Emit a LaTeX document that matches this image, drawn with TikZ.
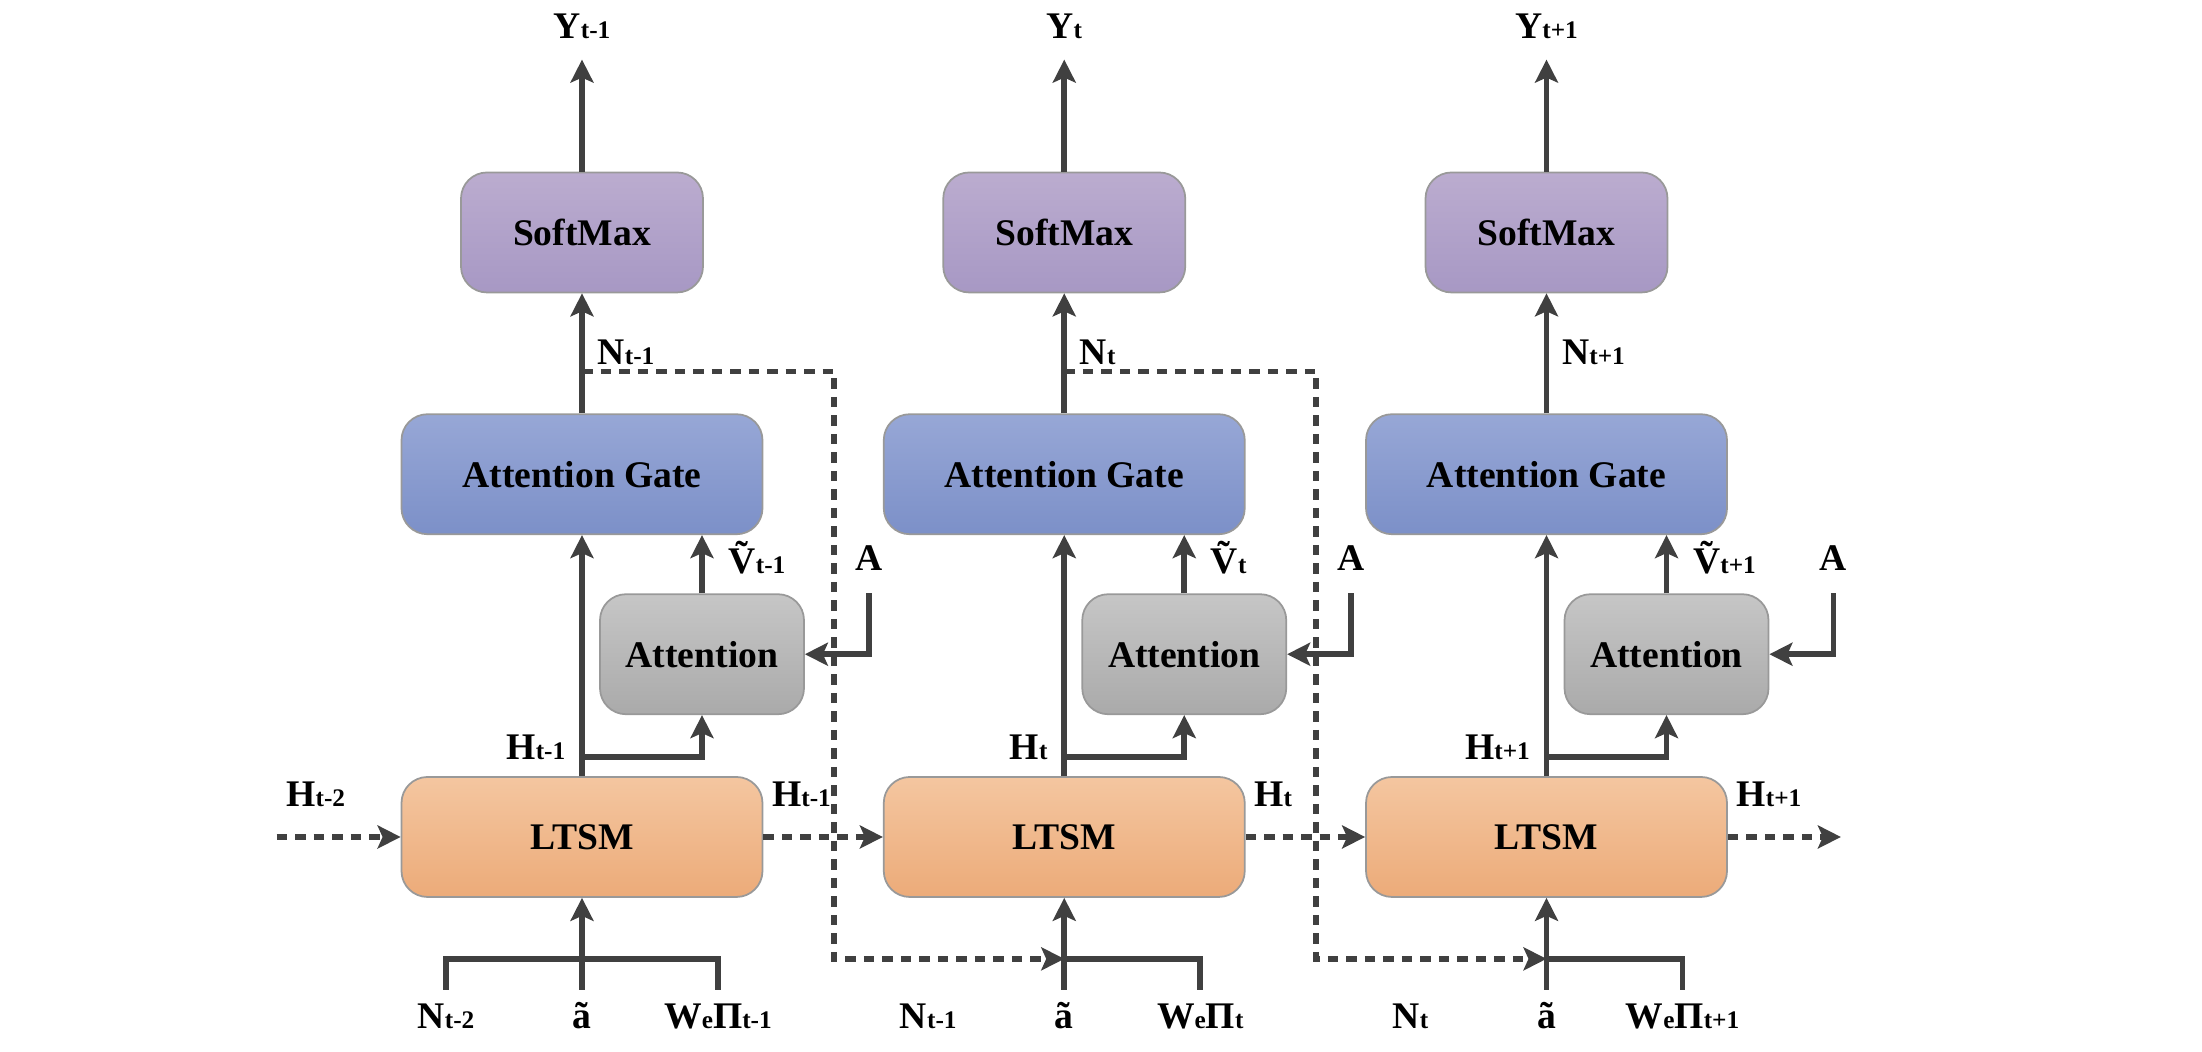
\documentclass[tikz,border=0pt]{standalone}
\usepackage{fontspec}
\setmainfont{Liberation Serif}
\usepackage{tikz}
\usetikzlibrary{positioning,arrows.meta,calc}
\definecolor{smaxtop}{RGB}{187,172,207}
\definecolor{smaxbot}{RGB}{167,152,196}
\definecolor{gatetop}{RGB}{151,167,214}
\definecolor{gatebot}{RGB}{124,144,200}
\definecolor{attntop}{RGB}{198,198,198}
\definecolor{attnbot}{RGB}{170,170,170}
\definecolor{lstmtop}{RGB}{244,198,160}
\definecolor{lstmbot}{RGB}{236,171,121}
\definecolor{wiregray}{RGB}{64,64,64}
\newcommand{\lowidx}[1]{{\fontsize{7.2}{8}\selectfont #1}}

\begin{document}
\begin{tikzpicture}[
  x=1mm, y=1mm,
  font=\fontsize{10.7}{12}\selectfont\bfseries,
  node distance=24.1mm and 11.95mm,
  box/.style={draw=black!40, rounded corners=2.6mm, align=center, inner sep=0pt, line width=0.5pt, minimum height=12mm},
  lstm/.style={box, minimum width=36.1mm, top color=lstmtop, bottom color=lstmbot},
  gate/.style={box, minimum width=36.1mm, top color=gatetop, bottom color=gatebot},
  smax/.style={box, minimum width=24.2mm, top color=smaxtop, bottom color=smaxbot},
  attn/.style={box, minimum width=20.4mm, top color=attntop, bottom color=attnbot},
  wire/.style={wiregray, line width=1.6pt},
  arr/.style={wire, -{Stealth[length=2.3mm, width=2.3mm, inset=0.5mm]}},
  darr/.style={arr, line width=1.6pt, dash pattern=on 1.05mm off 0.8mm},
  lab/.style={inner sep=0pt, anchor=base},
]
\useasboundingbox (0,0) rectangle (220.2,105.2);
% ---- LTSM row ----
\node[lstm] (lstm1) at (58.2,21.5) {LTSM};
\node[lstm, right=of lstm1] (lstm2) {LTSM};
\node[lstm, right=of lstm2] (lstm3) {LTSM};
% ---- gates and softmax ----
\node[gate, above=of lstm1] (gate1) {Attention Gate};
\node[gate, above=of lstm2] (gate2) {Attention Gate};
\node[gate, above=of lstm3] (gate3) {Attention Gate};
\node[smax, above=12mm of gate1] (smax1) {SoftMax};
\node[smax, above=12mm of gate2] (smax2) {SoftMax};
\node[smax, above=12mm of gate3] (smax3) {SoftMax};
% ---- attention blocks ----
\node[attn, anchor=south] (attn1) at ($(lstm1.north)+(12mm,6.1mm)$) {Attention};
\node[attn, anchor=south] (attn2) at ($(lstm2.north)+(12mm,6.1mm)$) {Attention};
\node[attn, anchor=south] (attn3) at ($(lstm3.north)+(12mm,6.1mm)$) {Attention};
% ---- helper points ----
\coordinate (ytip1) at ($(smax1.north)+(0,11.2mm)$);
\coordinate (ytip2) at ($(smax2.north)+(0,11.2mm)$);
\coordinate (ytip3) at ($(smax3.north)+(0,11.2mm)$);
\coordinate (ntap1) at ($(gate1.north)+(0,4.2mm)$);
\coordinate (ntap2) at ($(gate2.north)+(0,4.2mm)$);
\coordinate (atop1) at ($(attn1.north east)+(6.4mm,0)$);
\coordinate (atop2) at ($(attn2.north east)+(6.4mm,0)$);
\coordinate (atop3) at ($(attn3.north east)+(6.4mm,0)$);
\coordinate (hb1) at ($(lstm1.north)+(0,1.9mm)$);
\coordinate (hb2) at ($(lstm2.north)+(0,1.9mm)$);
\coordinate (hb3) at ($(lstm3.north)+(0,1.9mm)$);
\coordinate (j1) at ($(lstm1.south)+(0,-6.1mm)$);
\coordinate (j2) at ($(lstm2.south)+(0,-6.1mm)$);
\coordinate (j3) at ($(lstm3.south)+(0,-6.1mm)$);
\coordinate (jb1) at ($(j1)+(0,-3.1mm)$);
\coordinate (jb2) at ($(j2)+(0,-3.1mm)$);
\coordinate (jb3) at ($(j3)+(0,-3.1mm)$);
\coordinate (hin) at ($(lstm1.west)+(-12.4mm,0)$);
\coordinate (hout) at ($(lstm3.east)+(11.3mm,0)$);
% ---- vertical flow ----
\draw[arr] (smax1.north) -- (ytip1);
\draw[arr] (smax2.north) -- (ytip2);
\draw[arr] (smax3.north) -- (ytip3);
\draw[arr] (gate1.north) -- (smax1.south);
\draw[arr] (gate2.north) -- (smax2.south);
\draw[arr] (gate3.north) -- (smax3.south);
\draw[arr] (lstm1.north) -- (gate1.south);
\draw[arr] (lstm2.north) -- (gate2.south);
\draw[arr] (lstm3.north) -- (gate3.south);
\draw[arr] (attn1.north) -- (attn1.north |- gate1.south);
\draw[arr] (attn2.north) -- (attn2.north |- gate2.south);
\draw[arr] (attn3.north) -- (attn3.north |- gate3.south);
\draw[arr] (hb1) -| (attn1.south);
\draw[arr] (hb2) -| (attn2.south);
\draw[arr] (hb3) -| (attn3.south);
\draw[arr] (atop1) |- (attn1.east);
\draw[arr] (atop2) |- (attn2.east);
\draw[arr] (atop3) |- (attn3.east);
% ---- inputs below ----
\draw[wire] ([xshift=-13.6mm]jb1) |- ([xshift=13.6mm]j1) -- ([xshift=13.6mm]jb1);
\draw[wire] (j2) -| ([xshift=13.6mm]jb2);
\draw[wire] (j3) -| ([xshift=13.6mm]jb3);
\draw[arr] (jb1) -- (lstm1.south);
\draw[arr] (jb2) -- (lstm2.south);
\draw[arr] (jb3) -- (lstm3.south);
% ---- recurrent state (dashed) ----
\draw[darr] (hin) -- (lstm1.west);
\draw[darr] (lstm1.east) -- (lstm2.west);
\draw[darr] (lstm2.east) -- (lstm3.west);
\draw[darr] (lstm3.east) -- (hout);
\draw[darr] (ntap1) -- ++(25.2mm,0) |- (j2);
\draw[darr] (ntap2) -- ++(25.2mm,0) |- (j3);
% ---- labels ----
\node[lab] at ($(smax1.north)+(0,13.3mm)$) {Y\lowidx{t-1}};
\node[lab] at ($(smax2.north)+(0,13.3mm)$) {Y\lowidx{t}};
\node[lab] at ($(smax3.north)+(0,13.3mm)$) {Y\lowidx{t+1}};
\node[lab, anchor=base west] at ($(gate1.north)+(1.5mm,4.9mm)$) {N\lowidx{t-1}};
\node[lab, anchor=base west] at ($(gate2.north)+(1.5mm,4.9mm)$) {N\lowidx{t}};
\node[lab, anchor=base west] at ($(gate3.north)+(1.5mm,4.9mm)$) {N\lowidx{t+1}};
\node[lab, anchor=base west] at ($(attn1.north)+(2.6mm,2.0mm)$) {\~{V}\lowidx{t-1}};
\node[lab, anchor=base west] at ($(attn2.north)+(2.6mm,2.0mm)$) {\~{V}\lowidx{t}};
\node[lab, anchor=base west] at ($(attn3.north)+(2.6mm,2.0mm)$) {\~{V}\lowidx{t+1}};
\node[lab] at ($(atop1)+(0,2.3mm)$) {A};
\node[lab] at ($(atop2)+(0,2.3mm)$) {A};
\node[lab] at ($(atop3)+(0,2.3mm)$) {A};
\node[lab, anchor=base east] at ($(hb1)+(-1.6mm,-0.2mm)$) {H\lowidx{t-1}};
\node[lab, anchor=base east] at ($(hb2)+(-1.6mm,-0.2mm)$) {H\lowidx{t}};
\node[lab, anchor=base east] at ($(hb3)+(-1.6mm,-0.2mm)$) {H\lowidx{t+1}};
\node[lab, anchor=base west] at ($(lstm1.west)+(-11.5mm,3.0mm)$) {H\lowidx{t-2}};
\node[lab, anchor=base west] at ($(lstm1.east)+(0.8mm,3.0mm)$) {H\lowidx{t-1}};
\node[lab, anchor=base west] at ($(lstm2.east)+(0.8mm,3.0mm)$) {H\lowidx{t}};
\node[lab, anchor=base west] at ($(lstm3.east)+(0.8mm,3.0mm)$) {H\lowidx{t+1}};
\node[lab] at ($(jb1)+(-13.6mm,-3.9mm)$) {N\lowidx{t-2}};
\node[lab] at ($(jb1)+(0,-3.9mm)$) {ã};
\node[lab] at ($(jb1)+(13.6mm,-3.9mm)$) {W\lowidx{e}Π\lowidx{t-1}};
\node[lab] at ($(jb2)+(-13.6mm,-3.9mm)$) {N\lowidx{t-1}};
\node[lab] at ($(jb2)+(0,-3.9mm)$) {ã};
\node[lab] at ($(jb2)+(13.6mm,-3.9mm)$) {W\lowidx{e}Π\lowidx{t}};
\node[lab] at ($(jb3)+(-13.6mm,-3.9mm)$) {N\lowidx{t}};
\node[lab] at ($(jb3)+(0,-3.9mm)$) {ã};
\node[lab] at ($(jb3)+(13.6mm,-3.9mm)$) {W\lowidx{e}Π\lowidx{t+1}};
\end{tikzpicture}
\end{document}
